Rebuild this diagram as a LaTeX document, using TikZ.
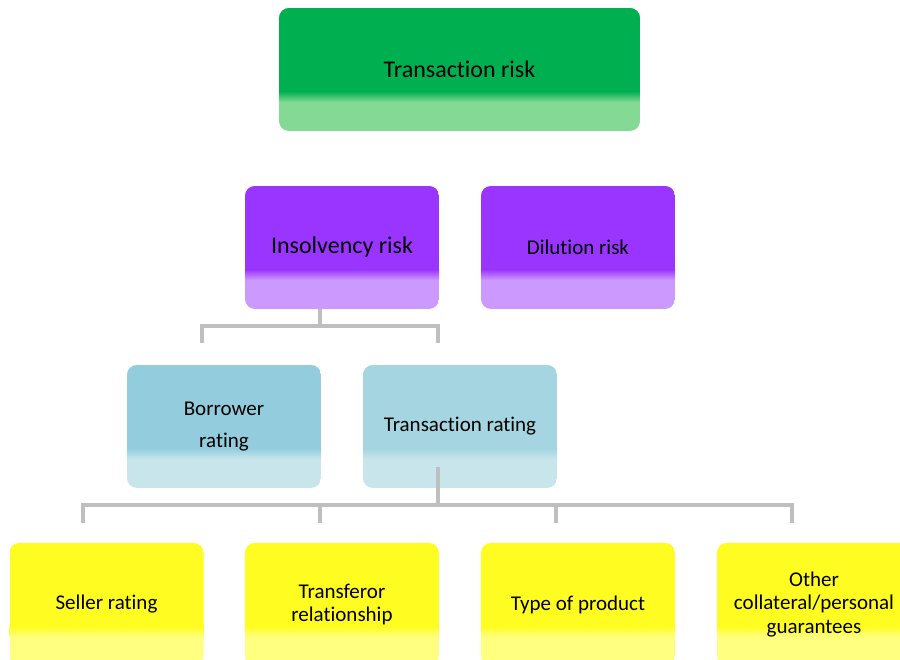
\documentclass[tikz,border=0pt]{standalone}
\usepackage{fontspec}
\setmainfont{Carlito}[Ligatures=NoCommon]
\usetikzlibrary{calc}
\definecolor{gdark}{HTML}{00B050}
\definecolor{glight}{HTML}{84D994}
\definecolor{pdark}{HTML}{9A35FF}
\definecolor{plight}{HTML}{CC99FF}
\definecolor{bdark}{HTML}{93CDDD}
\definecolor{bdarkb}{HTML}{A5D5E0}
\definecolor{blight}{HTML}{C8E5EC}
\definecolor{ydark}{HTML}{FFFC22}
\definecolor{ylight}{HTML}{FFFF80}
\definecolor{conngray}{HTML}{BFBFBF}
\tikzset{
  rbox/.style 2 args={draw=none, rounded corners=10pt, minimum width=194pt,
    minimum height=123pt, inner sep=0pt, align=center, text=black,
    path picture={
      \fill[#2, sharp corners] (path picture bounding box.south west) rectangle (path picture bounding box.north east);
      \fill[#1, sharp corners] ($(path picture bounding box.south west)+(0pt,39pt)$) rectangle (path picture bounding box.north east);
      \shade[top color=#1, bottom color=#2, sharp corners] ($(path picture bounding box.south west)+(0pt,29pt)$) rectangle ($(path picture bounding box.south east)+(0pt,39.5pt)$);
    }},
  bigtxt/.style={font=\fontsize{24}{29}\selectfont},
  smalltxt/.style={font=\fontsize{21}{23.5}\selectfont},
  conn/.style={draw=conngray, line width=4.5pt}
}
\begin{document}
\begin{tikzpicture}[x=1pt,y=-1pt]
\useasboundingbox (0,0) rectangle (900,660);
\clip (0,0) rectangle (900,660);
\fill[white] (0,0) rectangle (900,660);
% top
\node[rbox={gdark}{glight}, minimum width=361pt, bigtxt] (top) at (459.5,69.5) {Transaction risk};
% second row
\node[rbox={pdark}{plight}, bigtxt] (ins) at (342,247.5) {Insolvency risk};
\node[rbox={pdark}{plight}, smalltxt] (dil) at (578,247.5) {Dilution risk};
% third row
\node[rbox={bdark}{blight}, font=\fontsize{21}{32}\selectfont] (bor) at (224,426.5) {Borrower\\rating};
\node[rbox={bdarkb}{blight}, smalltxt] (trr) at (460,426.5) {Transaction rating};
% bottom row
\node[rbox={ydark}{ylight}, smalltxt] (y1) at (106.5,604.5) {Seller rating};
\node[rbox={ydark}{ylight}, smalltxt] (y2) at (342,604.5) {Transferor\\relationship};
\node[rbox={ydark}{ylight}, smalltxt] (y3) at (578,604.5) {Type of product};
\node[rbox={ydark}{ylight}, smalltxt] (y4) at (814,604.5) {Other\\collateral/personal\\guarantees};
% connectors upper
\coordinate (h1) at ($(ins.south)+(-22pt,-17pt)$);
\draw[conn] ($(ins.south)+(-22pt,0pt)$) -- (h1);
\draw[conn] ($(bor.north)+(-22pt,22pt)$) |- (h1) -| ($(trr.north)+(-22pt,22pt)$);
% connectors lower
\coordinate (h2) at ($(trr.south)+(-22pt,-17pt)$);
\draw[conn] ($(trr.south)+(-22pt,21pt)$) -- (h2);
\coordinate (d1) at ($(y1.north)+(-23.5pt,20pt)$);
\coordinate (d2) at ($(y2.north)+(-22pt,20pt)$);
\coordinate (d3) at ($(y3.north)+(-22pt,20pt)$);
\coordinate (d4) at ($(y4.north)+(-22pt,20pt)$);
\draw[conn] (d1) |- (h2) -| (d4);
\draw[conn] (d2) -- (d2 |- h2);
\draw[conn] (d3) -- (d3 |- h2);
\end{tikzpicture}
\end{document}
